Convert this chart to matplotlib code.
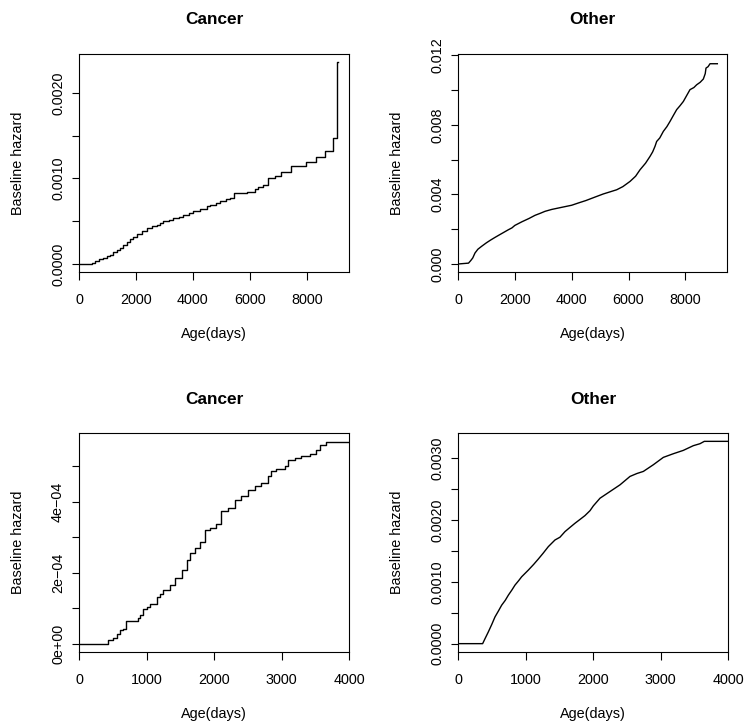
import matplotlib
matplotlib.use('Agg')
import matplotlib.pyplot as plt

plt.rcParams['font.family'] = ['Liberation Sans', 'DejaVu Sans']

# ---------------- data ----------------
cancer_full_x = [0, 440, 560, 700, 850, 971, 1100, 1205, 1350, 1450, 1556, 1680, 1789,
                 1900, 2023, 2200, 2374, 2550, 2725, 2850, 2959, 3150, 3310, 3500, 3661,
                 3850, 4012, 4250, 4480, 4600, 4800, 4947, 5150, 5298, 5439, 5900, 6094,
                 6175, 6300, 6468, 6643, 6900, 7111, 7462, 7988, 8339, 8632, 8924, 9076, 9085]
cancer_full_y = [0, 0.00001, 0.00003, 0.000055, 0.00007, 0.00009, 0.00011, 0.000136,
                 0.000165, 0.00019, 0.000226, 0.00026, 0.000292, 0.00032, 0.000355,
                 0.00039, 0.000421, 0.00044, 0.00046, 0.00048, 0.0005, 0.00052, 0.000538,
                 0.000555, 0.000577, 0.000595, 0.000616, 0.000645, 0.000674, 0.000694,
                 0.000715, 0.000733, 0.000755, 0.000772, 0.00083, 0.000838, 0.000845,
                 0.000877, 0.0009, 0.000928, 0.001006, 0.001033, 0.001072, 0.001142,
                 0.001189, 0.001251, 0.001318, 0.001474, 0.002359, 0.002359]

other_full_x = [0, 370, 450, 520, 598, 700, 833, 1000, 1150, 1302, 1450, 1600, 1771, 1900,
                2000, 2250, 2500, 2710, 2900, 3062, 3300, 3648, 4000, 4235, 4500, 4821,
                5114, 5350, 5584, 5800, 6053, 6250, 6405, 6600, 6757, 6850, 6933, 6991,
                7100, 7226, 7350, 7460, 7580, 7695, 7810, 7930, 8050, 8164, 8300, 8399,
                8520, 8633, 8700, 8727, 8800, 8868, 9126]
other_full_y = [0, 0.00005, 0.0002, 0.00035, 0.000633, 0.00085, 0.00102, 0.00122, 0.00138,
                0.00153, 0.00167, 0.00181, 0.00197, 0.00208, 0.00222, 0.00243, 0.00262,
                0.0028, 0.00292, 0.00303, 0.00314, 0.00326, 0.00338, 0.00351, 0.00365,
                0.00385, 0.00403, 0.00415, 0.00427, 0.00445, 0.00475, 0.00505, 0.00542,
                0.0058, 0.00619, 0.00645, 0.00677, 0.00705, 0.00725, 0.00763, 0.0079,
                0.0082, 0.00855, 0.00888, 0.0091, 0.00935, 0.0097, 0.01003, 0.01015,
                0.01031, 0.01045, 0.01064, 0.01095, 0.01127, 0.01135, 0.01152, 0.01152]

cancer_4k_x = [0, 424, 508, 557, 607, 650, 695, 870, 900, 952, 1000, 1051, 1149, 1200,
               1248, 1347, 1420, 1519, 1593, 1642, 1716, 1790, 1864, 1938, 2037, 2111,
               2210, 2308, 2407, 2506, 2604, 2703, 2802, 2851, 2925, 3048, 3097, 3196,
               3295, 3418, 3507, 3566, 3655, 4000]
cancer_4k_y = [0, 1.1e-5, 1.7e-5, 2.6e-5, 3.8e-5, 4.1e-5, 6.4e-5, 7.2e-5, 8.2e-5, 9.7e-5,
               1.02e-4, 1.13e-4, 1.32e-4, 1.40e-4, 1.51e-4, 1.65e-4, 1.84e-4, 2.08e-4,
               2.36e-4, 2.55e-4, 2.69e-4, 2.88e-4, 3.21e-4, 3.27e-4, 3.37e-4, 3.73e-4,
               3.82e-4, 4.06e-4, 4.15e-4, 4.32e-4, 4.45e-4, 4.53e-4, 4.72e-4, 4.86e-4,
               4.92e-4, 5.0e-4, 5.19e-4, 5.24e-4, 5.30e-4, 5.36e-4, 5.47e-4, 5.61e-4,
               5.70e-4, 5.70e-4]

other_4k_x = [0, 365, 400, 449, 500, 548, 600, 647, 700, 746, 800, 844, 900, 943, 1042,
              1120, 1190, 1260, 1338, 1437, 1510, 1585, 1660, 1733, 1810, 1881, 1956,
              2005, 2104, 2252, 2400, 2548, 2650, 2746, 2894, 3042, 3190, 3338, 3486,
              3585, 3649, 4000]
other_4k_y = [0, 0, 8e-5, 1.89e-4, 3.1e-4, 4.32e-4, 5.3e-4, 6.22e-4, 7.0e-4, 7.84e-4,
              8.7e-4, 9.46e-4, 1.02e-3, 1.081e-3, 1.189e-3, 1.28e-3, 1.368e-3, 1.46e-3,
              1.568e-3, 1.676e-3, 1.72e-3, 1.811e-3, 1.88e-3, 1.946e-3, 2.01e-3, 2.07e-3,
              2.15e-3, 2.227e-3, 2.351e-3, 2.459e-3, 2.567e-3, 2.703e-3, 2.75e-3,
              2.784e-3, 2.892e-3, 3.011e-3, 3.07e-3, 3.124e-3, 3.2e-3, 3.232e-3,
              3.27e-3, 3.27e-3]

titles = ["Cancer", "Other", "Cancer", "Other"]
xlabel = "Age(days)"
ylabel = "Baseline hazard"

xticks_full = [0, 2000, 4000, 6000, 8000]
xticks_4k = [0, 1000, 2000, 3000, 4000]

yticks_p1 = [0, 0.0005, 0.0010, 0.0015, 0.0020]
ylabels_p1 = ["0.0000", "", "0.0010", "", "0.0020"]
yticks_p2 = [0, 0.002, 0.004, 0.006, 0.008, 0.010, 0.012]
ylabels_p2 = ["0.000", "", "0.004", "", "0.008", "", "0.012"]
yticks_p3 = [0, 1e-4, 2e-4, 3e-4, 4e-4, 5e-4]
ylabels_p3 = ["0e+00", "", "2e\u221204", "", "4e\u221204", ""]
yticks_p4 = [0, 0.0005, 0.0010, 0.0015, 0.0020, 0.0025, 0.0030]
ylabels_p4 = ["0.0000", "", "0.0010", "", "0.0020", "", "0.0030"]

# ---------------- layout ----------------
W, H = 745, 722
fig = plt.figure(figsize=(W / 100, H / 100), dpi=100)
fig.patch.set_facecolor('white')


def add_ax(l, t, r, b):
    return fig.add_axes([l / W, 1 - b / H, (r - l) / W, (b - t) / H])


panels = [
    dict(box=(79, 54, 349, 272), x=cancer_full_x, y=cancer_full_y, step=True,
         xlim=(0, 9485), ylim=(-0.0000936, 0.002456), xt=xticks_full,
         yt=yticks_p1, yl=ylabels_p1),
    dict(box=(458, 54, 727, 272), x=other_full_x, y=other_full_y, step=False,
         xlim=(0, 9466), ylim=(-0.00046, 0.01208), xt=xticks_full,
         yt=yticks_p2, yl=ylabels_p2),
    dict(box=(79, 433, 349, 652), x=cancer_4k_x, y=cancer_4k_y, step=True,
         xlim=(0, 4000), ylim=(-2.36e-5, 5.94e-4), xt=xticks_4k,
         yt=yticks_p3, yl=ylabels_p3),
    dict(box=(458, 433, 728, 652), x=other_4k_x, y=other_4k_y, step=False,
         xlim=(0, 4000), ylim=(-1.35e-4, 3.405e-3), xt=xticks_4k,
         yt=yticks_p4, yl=ylabels_p4),
]

tick_fs = 10.4
for i, p in enumerate(panels):
    l, t, r, b = p['box']
    ax = add_ax(l, t, r, b)
    hpx = b - t
    wpx = r - l
    if p['step']:
        ax.plot(p['x'], p['y'], drawstyle='steps-post', color='black', lw=1.0,
                clip_on=True)
    else:
        ax.plot(p['x'], p['y'], color='black', lw=1.0, clip_on=True)
    ax.set_xlim(*p['xlim'])
    ax.set_ylim(*p['ylim'])
    ax.set_xticks(p['xt'])
    ax.set_xticklabels([str(v) for v in p['xt']], fontsize=tick_fs)
    ax.set_yticks(p['yt'])
    ax.set_yticklabels(p['yl'], fontsize=tick_fs, rotation=90, va='center')
    ax.tick_params(axis='x', direction='out', length=5.4, width=0.8, pad=9.5)
    ax.tick_params(axis='y', direction='out', length=5.4, width=0.8, pad=4.6)
    for s in ax.spines.values():
        s.set_linewidth(0.8)
        s.set_color('black')
    ax.text(0.5, 1 + 34 / hpx, titles[i], transform=ax.transAxes, ha='center',
            va='center', fontsize=12.4, fontweight='bold')
    ax.text(0.5, -62 / hpx, xlabel, transform=ax.transAxes, ha='center',
            va='center', fontsize=tick_fs)
    ax.text(-61 / wpx, 0.5, ylabel, transform=ax.transAxes, ha='center',
            va='center', rotation=90, fontsize=tick_fs)

fig.savefig('out.png', dpi=100, facecolor='white')
